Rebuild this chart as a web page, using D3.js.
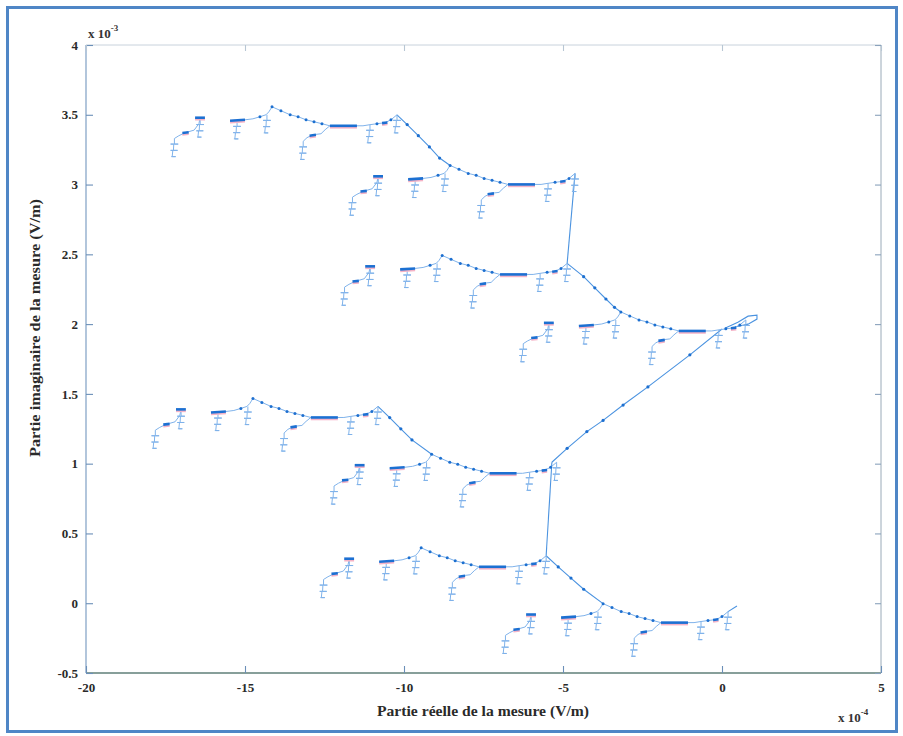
<!DOCTYPE html>
<html><head><meta charset="utf-8">
<script src="https://cdn.jsdelivr.net/npm/d3@7"></script>
<style>body{margin:0;background:#fff}svg{display:block}</style>
</head><body>
<svg id="c" width="903" height="736"></svg>
<script>
// ---- data (x: partie réelle, y: partie imaginaire, in displayed axis units) ----
const xTicks = [-20, -15, -10, -5, 0, 5];
const yTicks = [-0.5, 0, 0.5, 1, 1.5, 2, 2.5, 3, 3.5, 4];
const xTickLabels = ["-20", "-15", "-10", "-5", "0", "5"];
const yTickLabels = ["-0.5", "0", "0.5", "1", "1.5", "2", "2.5", "3", "3.5", "4"];

// anchors of the eight sub-clusters (right-hand node of each)
const anchors = [
  [-10.22, 3.50], [-4.62, 3.08],
  [-4.87, 2.435], [0.75, 2.03],
  [-10.82, 1.41], [-5.20, 1.01],
  [-5.53, 0.34], [0.19, -0.06]
];
// shape of one sub-cluster, relative to its anchor
const motifChain = [[0,0],[-0.19,-0.036],[-0.38,-0.057],[-0.63,-0.064],[-0.85,-0.071],[-1.07,-0.079],[-1.26,-0.079],[-2.11,-0.079],[-2.36,-0.064],[-2.61,-0.05],[-2.86,-0.036],[-3.11,-0.014],[-3.36,0],[-3.65,0.029],[-3.93,0.057],[-4.03,0.021],[-4.12,0],[-4.31,-0.014],[-4.53,-0.029],[-4.78,-0.036],[-5.03,-0.043],[-5.25,-0.043]];
const motifBranch = [[-2.11,-0.079],[-2.26,-0.107],[-2.39,-0.136],[-2.64,-0.143],[-2.83,-0.164],[-2.95,-0.19]];
const motifTail = [[-6.19,-0.021],[-6.23,-0.064],[-6.38,-0.11],[-6.67,-0.129],[-6.86,-0.15],[-7.0,-0.17]];
// small stacked glyphs: base points
const glyphBases = [[-0.85,-0.071],[-4.09,0],[-5.03,-0.043],[0,0],[-2.95,-0.19],[-7.0,-0.17],[-6.19,-0.03]];
const glyphShape = [[0,0],[0,-0.04],[0.12,-0.04],[-0.12,-0.04],[-0.02,-0.04],[-0.03,-0.085],[0.1,-0.085],[-0.12,-0.085],[-0.05,-0.085],[-0.07,-0.13],[0.04,-0.13],[-0.1,-0.13]];
const motifThick = [
  [[-1.26,-0.079],[-2.11,-0.079]],
  [[-4.78,-0.036],[-5.25,-0.043]],
  [[-6.04,-0.021],[-6.35,-0.021]],
  [[-0.30,-0.055],[-0.47,-0.060]],
  [[-2.55,-0.143],[-2.75,-0.15]],
  [[-6.55,-0.125],[-6.75,-0.13]]
];
const motifDots = [[-2.36,-0.064],[-2.61,-0.05],[-2.86,-0.036],[-3.11,-0.014],[-3.36,0],[-3.65,0.029],[-3.93,0.057],[-0.19,-0.036],[-4.31,-0.014],[-0.63,-0.064]];

// links between the sub-clusters
const links = [
  [[-10.22,3.50],[-9.90,3.43],[-9.55,3.35],[-9.20,3.27],[-8.88,3.19],[-8.55,3.137]],
  [[-4.62,3.08],[-4.87,2.435]],
  [[-4.87,2.435],[-4.35,2.34],[-4.00,2.26],[-3.65,2.18],[-3.38,2.12],[-3.18,2.087]],
  [[0.0,1.965],[-1.01,1.78],[-2.33,1.55],[-3.11,1.42],[-3.74,1.31],[-4.25,1.23],[-4.87,1.11],[-5.35,1.01]],
  [[-10.82,1.41],[-10.45,1.33],[-10.10,1.25],[-9.75,1.17],[-9.13,1.067]],
  [[-5.35,1.01],[-5.53,0.34]],
  [[-5.53,0.34],[-5.15,0.26],[-4.75,0.18],[-4.35,0.10],[-3.74,-0.003]],
  [[0.09,1.971],[0.50,2.014],[0.82,2.057],[1.10,2.064],[1.10,2.036],[0.82,2.0],[0.41,1.979]],
  [[0.19,-0.06],[0.47,-0.02]]
];
const dottedLinks = [0, 2, 3, 4, 6];

// ---- drawing ----
const W = 903, H = 736;
const svg = d3.select("#c");
const x = d3.scaleLinear().domain([-20, 5]).range([86, 881]);
const y = d3.scaleLinear().domain([-0.5, 4]).range([673, 45]);
const font = "'Liberation Serif', 'DejaVu Serif', serif";

svg.append("rect").attr("width", W).attr("height", H).attr("fill", "#ffffff");
const defs = svg.append("defs");
defs.append("filter").attr("id", "soft").append("feGaussianBlur").attr("stdDeviation", 0.5);

// axes box
const box = svg.append("g");
box.append("line").attr("x1", x(-20)).attr("x2", x(-20)).attr("y1", y(4)).attr("y2", y(-0.5)).attr("stroke", "#7f9fc4").attr("stroke-width", 1.2);
box.append("line").attr("x1", x(-20)).attr("x2", x(5)).attr("y1", y(-0.5)).attr("y2", y(-0.5)).attr("stroke", "#5f7f78").attr("stroke-width", 1.6);
box.append("line").attr("x1", x(5)).attr("x2", x(5)).attr("y1", y(4)).attr("y2", y(-0.5)).attr("stroke", "#9aaab8").attr("stroke-width", 1);
box.append("line").attr("x1", x(-20)).attr("x2", x(5)).attr("y1", y(4)).attr("y2", y(4)).attr("stroke", "#c8d2dc").attr("stroke-width", 1);

const fmtX = d => xTickLabels[xTicks.indexOf(d)];
const fmtY = d => yTickLabels[yTicks.indexOf(d)];

const gx = svg.append("g").attr("transform", `translate(0,${y(-0.5)})`)
  .call(d3.axisBottom(x).tickValues(xTicks).tickSize(-7).tickPadding(10).tickFormat(fmtX));
const gy = svg.append("g").attr("transform", `translate(${x(-20)},0)`)
  .call(d3.axisLeft(y).tickValues(yTicks).tickSize(-7).tickPadding(8).tickFormat(fmtY));
const gt = svg.append("g").attr("transform", `translate(0,${y(4)})`)
  .call(d3.axisTop(x).tickValues(xTicks).tickSize(-6).tickFormat(""));
const gr = svg.append("g").attr("transform", `translate(${x(5)},0)`)
  .call(d3.axisRight(y).tickValues(yTicks).tickSize(-6).tickFormat(""));
[gx, gy, gt, gr].forEach(g => {
  g.select(".domain").remove();
  g.selectAll(".tick line").attr("stroke", "#6b8fb8").attr("stroke-width", 1.1);
  g.selectAll(".tick text").attr("fill", "#2a2a2a").style("font-family", font).style("font-weight", "bold").style("font-size", "13px");
});
gt.selectAll(".tick line").attr("stroke", "#b8c6d4");
gr.selectAll(".tick line").attr("stroke", "#8aa2bc");

// multipliers
const m1 = svg.append("text").attr("x", 88).attr("y", 38).style("font-family", font).style("font-weight", "bold").style("font-size", "13px").attr("fill", "#333");
m1.append("tspan").text("x 10");
m1.append("tspan").attr("dy", -7).style("font-size", "9px").text("-3");
const m2 = svg.append("text").attr("x", 838).attr("y", 722).style("font-family", font).style("font-weight", "bold").style("font-size", "13px").attr("fill", "#333");
m2.append("tspan").text("x 10");
m2.append("tspan").attr("dy", -7).style("font-size", "9px").text("-4");

// axis titles
svg.append("text").attr("x", 483).attr("y", 716).attr("text-anchor", "middle")
  .attr("textLength", 212).attr("lengthAdjust", "spacingAndGlyphs")
  .style("font-family", font).style("font-weight", "bold").style("font-size", "14px").attr("fill", "#2a2a2a")
  .text("Partie réelle de la mesure (V/m)");
svg.append("text").attr("transform", "translate(40,328) rotate(-90)").attr("text-anchor", "middle")
  .attr("textLength", 258).attr("lengthAdjust", "spacingAndGlyphs")
  .style("font-family", font).style("font-weight", "bold").style("font-size", "14px").attr("fill", "#2a2a2a")
  .text("Partie imaginaire de la mesure (V/m)");

// data
const plot = svg.append("g").attr("filter", "url(#soft)");
const line = d3.line().x(d => x(d[0])).y(d => y(d[1]));
const shift = (pts, a) => pts.map(p => [p[0] + a[0], p[1] + a[1]]);
const thin = "#7fb2ea";

links.forEach(l => plot.append("path").attr("d", line(l)).attr("fill", "none").attr("stroke", "#4b93e0").attr("stroke-width", 1.1));
dottedLinks.forEach(i => links[i].slice(1, -1).forEach(p =>
  plot.append("circle").attr("cx", x(p[0])).attr("cy", y(p[1])).attr("r", 1.6).attr("fill", "#1f6fd0")));

anchors.forEach(a => {
  [motifChain, motifBranch, motifTail].forEach(pts =>
    plot.append("path").attr("d", line(shift(pts, a))).attr("fill", "none").attr("stroke", thin).attr("stroke-width", 1));
  glyphBases.forEach(b => {
    const g = shift(shift(glyphShape, b), a);
    plot.append("path").attr("d", line(g)).attr("fill", "none").attr("stroke", thin).attr("stroke-width", 1);
  });
  motifThick.forEach(pts => {
    const s = shift(pts, a);
    plot.append("path").attr("d", line(s)).attr("transform", "translate(0,1.8)").attr("fill", "none").attr("stroke", "#f5b3c6").attr("stroke-width", 2);
    plot.append("path").attr("d", line(s)).attr("fill", "none").attr("stroke", "#1c6fd2").attr("stroke-width", 2.6);
  });
  shift(motifDots, a).forEach(p =>
    plot.append("circle").attr("cx", x(p[0])).attr("cy", y(p[1])).attr("r", 1.5).attr("fill", "#1f6fd0"));
});

// outer frame
svg.append("rect").attr("x", 7.5).attr("y", 7.5).attr("width", 889).attr("height", 724)
  .attr("fill", "none").attr("stroke", "#4f86c6").attr("stroke-width", 3);
</script>
</body></html>
